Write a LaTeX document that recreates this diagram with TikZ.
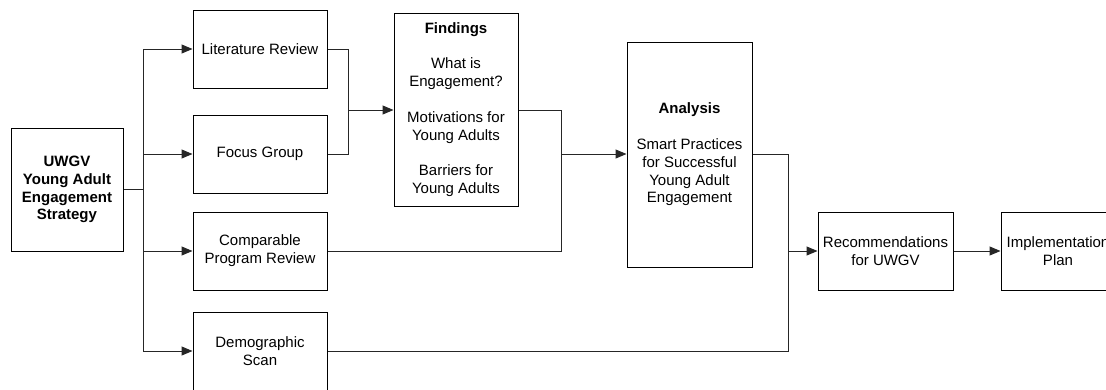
\documentclass[tikz,border=0pt]{standalone}
\usepackage{fontspec}
\setmainfont{Liberation Sans}
\usetikzlibrary{arrows.meta}
\begin{document}
\begin{tikzpicture}[x=1pt,y=-1pt,
  box/.style={draw=black,line width=1pt,rectangle,inner sep=0pt,align=center,
    font=\fontsize{15}{17.8}\selectfont},
  conn/.style={draw=black!85,line width=1pt},
  arr/.style={conn,-{Triangle[length=11pt,width=9pt]}}]
\useasboundingbox (0,0) rectangle (1106,389);
\clip (0,0) rectangle (1106,389);
\fill[white] (0,0) rectangle (1106,389);
\node[box,minimum width=112pt,minimum height=123pt] (uwgv) at (67,189.5)
  {\textbf{UWGV}\\\textbf{Young Adult}\\\textbf{Engagement}\\\textbf{Strategy}};
\node[box,minimum width=134pt,minimum height=78pt] (lit) at (260,49) {Literature Review};
\node[box,minimum width=134pt,minimum height=78pt] (focus) at (260,154) {Focus Group};
\node[box,minimum width=134pt,minimum height=78pt] (comp) at (260,251) {Comparable\\Program Review};
\node[box,minimum width=134pt,minimum height=78pt] (demo) at (260,351) {Demographic\\Scan};
\node[box,minimum width=124pt,minimum height=193pt] (find) at (456,109.5)
  {\textbf{Findings}\\[17.8pt]What is\\Engagement?\\[17.8pt]Motivations for\\Young Adults\\[17.8pt]Barriers for\\Young Adults};
\node[box,minimum width=125pt,minimum height=225pt] (ana) at (689.5,154.5)
  {\textbf{Analysis}\\[17.8pt]Smart Practices\\for Successful\\Young Adult\\Engagement};
\node[box,minimum width=135pt,minimum height=78pt] (rec) at (885.5,251) {Recommendations\\for UWGV};
\node[box,minimum width=114pt,minimum height=78pt] (impl) at (1058,251) {Implementation\\Plan};
\coordinate (s) at (143,189);
\coordinate (j1) at (348,110);
\coordinate (j2) at (561,154);
\coordinate (j3) at (788,251);
\draw[conn] (uwgv.east |- s) -- (s);
\draw[arr] (s) |- (lit.west);
\draw[arr] (s) |- (focus.west);
\draw[arr] (s) |- (comp.west);
\draw[arr] (s) |- (demo.west);
\draw[conn] (lit.east) -| (j1);
\draw[conn] (focus.east) -| (j1);
\draw[arr] (j1) -- (find.west |- j1);
\draw[conn] (find.east |- j1) -| (j2);
\draw[conn] (comp.east) -| (j2);
\draw[arr] (j2) -- (ana.west |- j2);
\draw[conn] (ana.east |- j2) -| (j3);
\draw[conn] (demo.east) -| (j3);
\draw[arr] (j3) -- (rec.west);
\draw[arr] (rec.east) -- (impl.west);
\end{tikzpicture}
\end{document}
